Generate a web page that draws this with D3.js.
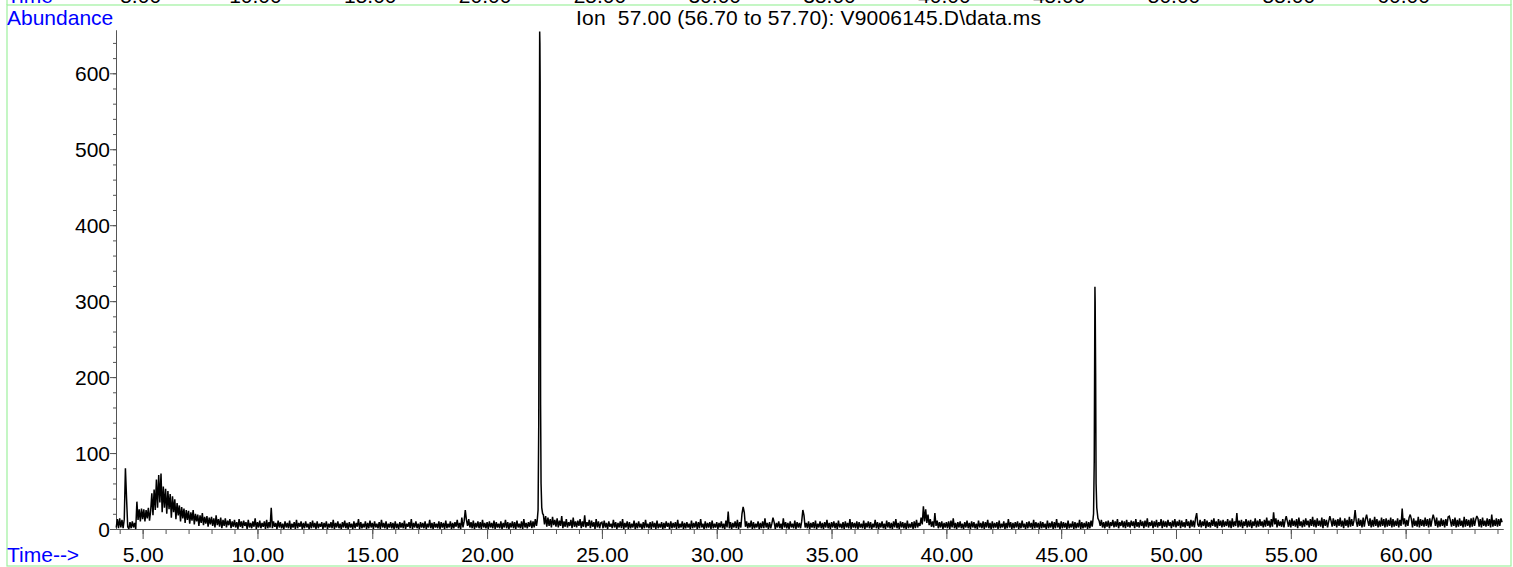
<!DOCTYPE html>
<html>
<head>
<meta charset="utf-8">
<script src="https://cdn.jsdelivr.net/npm/d3@7"></script>
<style>
  html, body { margin: 0; padding: 0; background: #fff; }
  svg { display: block; font-family: "Liberation Sans", Arial, sans-serif; }
  .lbl { font-size: 21px; }
</style>
</head>
<body>
<svg id="chart" width="1513" height="567"></svg>
<script>
// ---- data ----
const chartTitle = "Ion  57.00 (56.70 to 57.70): V9006145.D\\data.ms";
const xTickMajor = [5, 10, 15, 20, 25, 30, 35, 40, 45, 50, 55, 60];
const yTickMajor = [0, 100, 200, 300, 400, 500, 600];

// baseline trace, sampled every 0.05 min starting at 3.85 min (null = covered by a peak array)
const traceStart = 3.85;
const traceStep = 0.05;
const traceAbundance = [
  2, 13, 1,
  14, 2, 12, 1, 13, 80, 40, 3, 0, 9, 1, 10, 2, 8, 0, 36, 12, 26, 10, 27,
  13, 26, 10, 25, 14, 28, 11, 24, 47, 18, 52, 25, 65, 28, 71, 35, 73, 22, 56, 28,
  53, 20, 50, 26, 46, 15, 43, 22, 39, 13, 34, 18, 31, 10, 29, 14, 27, 8, 25, 12,
  24, 7, 22, 11, 25, 6, 20, 10, 19, 4, 18, 8, 21, 5, 16, 7, 17, 3, 15, 6,
  16, 4, 14, 2, 18, 5, 13, 3, 15, 1, 12, 4, 14, 2, 11, 5, 13, 1, 10, 3,
  12, 2, 9, 0, 13, 3, 10, 1, 11, 4, 9, 0, 12, 2, 8, 1, 10, 3, 14, 0,
  9, 2, 11, 1, 8, 3, 10, 0, 12, 1, 9, 2, 28, 1, 10, 3, 8, 0, 11, 2,
  9, 1, 7, 0, 10, 2, 8, 1, 11, 0, 7, 2, 9, 0, 12, 1, 8, 3, 10, 0,
  8, 1, 10, 2, 7, 0, 9, 1, 11, 2, 8, 0, 10, 1, 7, 3, 9, 0, 8, 2,
  10, 0, 7, 2, 9, 1, 12, 0, 8, 2, 10, 1, 7, 0, 9, 2, 11, 1, 8, 0,
  9, 2, 7, 0, 10, 1, 8, 3, 13, 0, 9, 1, 7, 2, 10, 0, 8, 1, 11, 2,
  8, 0, 10, 2, 7, 1, 9, 0, 12, 2, 8, 1, 10, 0, 7, 2, 9, 1, 8, 0,
  10, 1, 7, 0, 9, 2, 8, 1, 11, 0, 7, 3, 9, 1, 13, 0, 8, 2, 10, 1,
  7, 0, 9, 2, 8, 1, 10, 0, 7, 2, 12, 1, 8, 0, 9, 2, 7, 1, 10, 0,
  9, 2, 8, 0, 11, 1, 7, 2, 10, 0, 8, 1, 9, 3, 12, 1, 8, 0, 15, 2,
  10, 25, 12, 4, 13, 2, 9, 1, 11, 0, 8, 2, 10, 1, 9, 0, 12, 2, 8, 1,
  9, 0, 10, 2, 8, 1, 11, 0, 9, 2, 7, 1, 10, 0, 8, 2, 12, 1, 9, 0,
  8, 2, 10, 1, 9, 0, 11, 2, 7, 1, 10, 0, 13, 2, 8, 1, 9, 3, 11, 1,
  10, 2, 13, 4, null, null, null, null, null, 19, 6, 17, 3, 15, 4, 13, 2, 16, 5, 12,
  3, 14, 2, 11, 4, 17, 1, 10, 3, 13, 2, 9, 4, 12, 1, 15, 3, 10, 2, 11,
  4, 13, 1, 10, 3, 18, 2, 9, 4, 12, 1, 11, 3, 9, 0, 13, 2, 10, 1, 8,
  9, 1, 11, 2, 8, 0, 10, 3, 7, 1, 12, 2, 9, 0, 8, 2, 10, 1, 13, 0,
  8, 2, 10, 0, 9, 1, 7, 2, 11, 0, 8, 1, 10, 2, 7, 0, 9, 1, 12, 2,
  7, 1, 9, 0, 10, 2, 8, 0, 11, 1, 7, 2, 9, 0, 8, 1, 10, 3, 8, 0,
  10, 1, 8, 2, 9, 0, 12, 1, 7, 2, 10, 0, 8, 1, 9, 2, 7, 0, 11, 1,
  8, 2, 10, 0, 9, 1, 13, 2, 7, 0, 10, 1, 8, 2, 9, 0, 11, 1, 7, 2,
  9, 0, 8, 2, 10, 1, 7, 0, 11, 2, 23, 1, 9, 0, 8, 2, 10, 1, 12, 0,
  9, 2, 20, 29, 22, 3, 10, 1, 8, 2, 11, 0, 9, 1, 7, 2, 10, 0, 8, 1,
  10, 1, 14, 2, 8, 0, 9, 1, 7, 15, 9, 0, 8, 2, 10, 1, 7, 0, 14, 2,
  9, 1, 8, 0, 10, 2, 7, 1, 11, 0, 9, 2, 8, 1, 10, 25, 18, 2, 8, 1,
  10, 0, 8, 2, 9, 1, 11, 0, 7, 2, 10, 1, 8, 0, 9, 2, 12, 1, 8, 0,
  9, 2, 10, 1, 8, 0, 11, 2, 7, 1, 9, 0, 10, 2, 8, 1, 13, 0, 9, 2,
  8, 1, 10, 0, 9, 2, 7, 1, 11, 0, 8, 2, 10, 1, 9, 0, 7, 2, 12, 1,
  9, 0, 8, 2, 10, 1, 7, 0, 11, 2, 9, 1, 8, 0, 10, 2, 13, 1, 8, 0,
  10, 2, 9, 1, 8, 0, 11, 1, 7, 2, 9, 0, 10, 1, 12, 2, 8, 4, 15, 6,
  30, 10, 26, 8, 19, 5, 13, 3, 10, 2, 21, 4, 11, 1, 9, 2, 10, 0, 8, 2,
  9, 1, 10, 0, 11, 2, 14, 1, 8, 0, 9, 2, 10, 1, 7, 0, 9, 2, 11, 1,
  8, 0, 10, 2, 9, 1, 7, 0, 11, 2, 8, 1, 10, 0, 9, 2, 12, 1, 8, 0,
  10, 1, 8, 2, 9, 0, 11, 1, 7, 2, 10, 0, 8, 1, 13, 2, 9, 0, 8, 1,
  9, 2, 10, 0, 8, 1, 11, 2, 7, 0, 9, 1, 10, 2, 8, 0, 12, 1, 9, 2,
  8, 0, 10, 1, 9, 2, 7, 0, 11, 1, 8, 2, 10, 0, 9, 1, 13, 2, 8, 0,
  10, 1, 9, 2, 8, 0, 11, 1, 7, 2, 10, 0, 9, 1, 8, 2, 12, 0, 9, 1,
  8, 2, 10, 0, 9, 1, 11, 3, null, null, null, null, null, 11, 4, 12, 2, 9, 1, 10,
  3, 11, 1, 9, 4, 12, 2, 10, 3, 13, 1, 9, 4, 11, 2, 10, 1, 12, 3, 9,
  2, 11, 4, 10, 1, 13, 3, 9, 2, 12, 4, 10, 1, 11, 3, 14, 2, 9, 4, 11,
  1, 10, 3, 12, 2, 9, 4, 13, 1, 11, 3, 10, 2, 12, 4, 9, 1, 11, 3, 13,
  2, 10, 4, 12, 1, 11, 3, 9, 2, 13, 4, 10, 1, 12, 3, 11, 2, 14, 21, 6,
  3, 12, 2, 10, 4, 13, 1, 11, 3, 9, 2, 12, 4, 14, 3, 10, 1, 13, 4, 11,
  2, 12, 3, 10, 4, 13, 2, 11, 1, 14, 3, 10, 4, 21, 2, 11, 3, 12, 1, 10,
  4, 13, 2, 11, 3, 12, 1, 10, 4, 14, 2, 11, 3, 13, 4, 10, 2, 12, 3, 15,
  4, 11, 2, 13, 3, 22, 6, 14, 2, 12, 4, 10, 3, 13, 2, 11, 17, 10, 3, 12,
  2, 14, 4, 11, 3, 13, 1, 15, 4, 10, 2, 12, 3, 14, 5, 11, 2, 13, 4, 16,
  3, 12, 2, 14, 4, 11, 3, 15, 1, 13, 4, 12, 2, 10, 17, 11, 3, 14, 4, 12,
  2, 13, 4, 15, 3, 11, 1, 14, 4, 12, 2, 16, 3, 13, 4, 11, 25, 10, 3, 14,
  4, 12, 2, 15, 3, 13, 19, 11, 4, 14, 2, 12, 3, 16, 4, 13, 2, 11, 3, 15,
  4, 13, 2, 14, 3, 12, 4, 15, 2, 13, 3, 11, 4, 14, 2, 12, 4, 27, 6, 14,
  3, 12, 4, 15, 19, 13, 2, 14, 4, 11, 3, 16, 2, 13, 4, 12, 3, 15, 4, 13,
  2, 14, 3, 12, 19, 13, 4, 15, 2, 11, 3, 14, 4, 12, 2, 13, 4, 16, 17, 11,
  3, 13, 4, 15, 2, 12, 3, 14, 4, 11, 2, 16, 3, 13, 4, 12, 2, 14, 3, 15,
  4, 12, 17, 14, 3, 13, 2, 15, 4, 11, 3, 14, 4, 13, 2, 19, 3, 12, 4, 14,
  3, 13, 4, 14, 9
];

// the two large peaks, finer sampling
const peak1Time = [22.18, 22.22, 22.25, 22.27, 22.29, 22.30, 22.31, 22.33, 22.35, 22.38, 22.42];
const peak1Abundance = [10, 25, 140, 420, 655, 640, 590, 163, 60, 28, 20];
const peak2Time = [46.37, 46.41, 46.44, 46.46, 46.47, 46.48, 46.50, 46.52, 46.55, 46.60];
const peak2Abundance = [8, 20, 90, 240, 319, 300, 205, 60, 28, 14];

// ---- build series ----
const points = [];
traceAbundance.forEach((v, i) => {
  if (v !== null) points.push({ t: +(traceStart + i * traceStep).toFixed(2), v });
});
peak1Time.forEach((t, i) => points.push({ t, v: peak1Abundance[i] }));
peak2Time.forEach((t, i) => points.push({ t, v: peak2Abundance[i] }));
points.sort((a, b) => a.t - b.t);

// ---- layout ----
const svg = d3.select("#chart");
const x = d3.scaleLinear().domain([3.84, 64.24]).range([116, 1503]);
const y = d3.scaleLinear().domain([0, 657]).range([529, 30]);
const axisColor = "#555";
const green = "#9ef09e";
const blue = "#0000ff";

// frame
svg.append("rect").attr("x", 7).attr("y", 5).attr("width", 1504).attr("height", 561)
  .attr("fill", "none").attr("stroke", green).attr("stroke-width", 1.2);
svg.append("line").attr("x1", 7).attr("x2", 7).attr("y1", 0).attr("y2", 5).attr("stroke", green).attr("stroke-width", 1.2);
svg.append("line").attr("x1", 1511).attr("x2", 1511).attr("y1", 0).attr("y2", 5).attr("stroke", green).attr("stroke-width", 1.2);

// clipped labels of the panel above
svg.append("text").attr("class", "lbl").attr("x", 7).attr("y", 2.7).attr("fill", blue).text("Time");
svg.selectAll("text.toplbl").data(xTickMajor).enter().append("text")
  .attr("class", "lbl toplbl").attr("x", d => x(d) - 2).attr("y", 2.7)
  .attr("text-anchor", "middle").attr("fill", "#000").text(d => d.toFixed(2));

// headings
svg.append("text").attr("class", "lbl").attr("x", 7).attr("y", 24.5).attr("fill", blue).text("Abundance");
svg.append("text").attr("class", "lbl").attr("x", 576).attr("y", 25).attr("fill", "#000")
  .attr("textLength", 465).attr("lengthAdjust", "spacing")
  .style("white-space", "pre").text(chartTitle);
svg.append("text").attr("class", "lbl").attr("x", 7).attr("y", 561.5).attr("fill", blue).text("Time-->");

// x axis
const xMinor = d3.range(4, 65, 1);
const gxMinor = svg.append("g").attr("transform", "translate(0,529)")
  .call(d3.axisBottom(x).tickValues(xMinor).tickSize(5).tickSizeOuter(0).tickFormat(""));
const gx = svg.append("g").attr("transform", "translate(0,529)")
  .call(d3.axisBottom(x).tickValues(xTickMajor).tickSize(10).tickSizeOuter(0).tickPadding(8).tickFormat(d3.format(".2f")));
[gxMinor, gx].forEach(g => {
  g.selectAll("path,line").attr("stroke", axisColor);
  g.selectAll("text").attr("class", "lbl").attr("fill", "#000").style("font-size", "21px")
    .style("font-family", '"Liberation Sans", Arial, sans-serif');
});

// y axis
const yMinor = d3.range(0, 657, 20);
const gyMinor = svg.append("g").attr("transform", "translate(116,0)")
  .call(d3.axisLeft(y).tickValues(yMinor).tickSize(3).tickSizeOuter(0).tickFormat(""));
const gy = svg.append("g").attr("transform", "translate(116,0)")
  .call(d3.axisLeft(y).tickValues(yTickMajor).tickSize(6).tickSizeOuter(0).tickPadding(0).tickFormat(d3.format("d")));
[gyMinor, gy].forEach(g => {
  g.selectAll("path,line").attr("stroke", axisColor);
  g.selectAll("text").attr("fill", "#000").style("font-size", "21px")
    .style("font-family", '"Liberation Sans", Arial, sans-serif').attr("dy", "0.35em");
});

// trace
svg.append("path").datum(points)
  .attr("fill", "none").attr("stroke", "#000").attr("stroke-width", 1.5)
  .attr("stroke-linejoin", "miter").attr("stroke-miterlimit", 2)
  .attr("d", d3.line().x(d => x(d.t)).y(d => y(d.v)));
</script>
</body>
</html>
